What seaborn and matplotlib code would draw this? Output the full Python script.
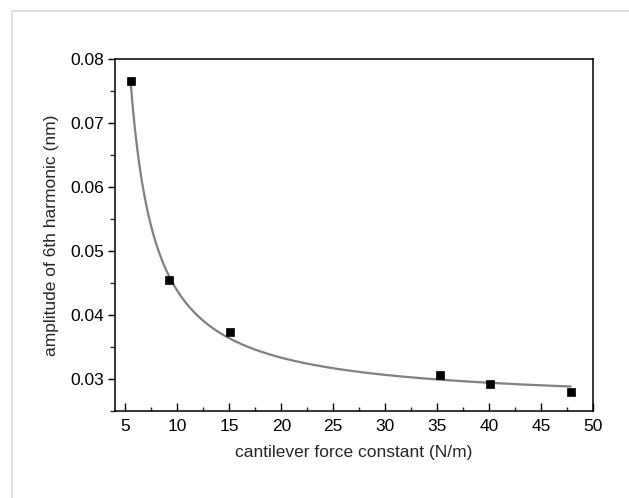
import numpy as np
import pandas as pd
import matplotlib
matplotlib.use("Agg")
import matplotlib.pyplot as plt
from matplotlib.ticker import MultipleLocator
from matplotlib.patches import Rectangle
import seaborn as sns

# ---- data ----
force_constant = [5.5, 9.22, 15.06, 35.3, 40.1, 47.85]          # N/m
amplitude_6th = [0.0765, 0.0454, 0.0373, 0.0306, 0.0292, 0.0279]  # nm

x_ticks = [5, 10, 15, 20, 25, 30, 35, 40, 45, 50]
y_ticks = [0.03, 0.04, 0.05, 0.06, 0.07, 0.08]

# ---- fitted curve y = a + b/(x - c), least squares over data ----
xd = np.array(force_constant)
yd = np.array(amplitude_6th)
best = None
for c in np.linspace(0.0, xd.min() - 0.3, 600):
    A = np.column_stack([np.ones_like(xd), 1.0 / (xd - c)])
    coef, *_ = np.linalg.lstsq(A, yd, rcond=None)
    sse = np.sum((A @ coef - yd) ** 2)
    if best is None or sse < best[0]:
        best = (sse, c, coef)
_, c_fit, (a_fit, b_fit) = best
xs = np.linspace(xd.min(), xd.max(), 400)
fit_df = pd.DataFrame({"x": xs, "y": a_fit + b_fit / (xs - c_fit)})
pts_df = pd.DataFrame({"x": force_constant, "y": amplitude_6th})

sns.set_style("ticks")
plt.rcParams["font.family"] = ["Liberation Sans", "DejaVu Sans"]

fig = plt.figure(figsize=(6.29, 4.98), dpi=100)
fig.patch.set_facecolor("white")
# light frame around the figure
fig.add_artist(Rectangle((12 / 629, -0.1), 1.2, 1 - 11 / 498 + 0.1,
                         transform=fig.transFigure, fill=False,
                         edgecolor="#d9d9d9", linewidth=1.2))

ax = fig.add_axes([115 / 629, 1 - 411 / 498, (593 - 115) / 629, (411 - 59) / 498])

sns.lineplot(data=fit_df, x="x", y="y", ax=ax, color="#808080",
             linewidth=1.6, zorder=2)
sns.scatterplot(data=pts_df, x="x", y="y", ax=ax, marker="s", s=36,
                color="black", edgecolor="black", linewidth=0.5, zorder=3)

ax.set_xlim(4, 50)
ax.set_ylim(0.025, 0.08)
ax.set_xticks(x_ticks)
ax.set_yticks(y_ticks)
ax.set_xticklabels([str(t) for t in x_ticks])
ax.set_yticklabels([f"{t:.2f}" for t in y_ticks])
ax.xaxis.set_minor_locator(MultipleLocator(2.5))
ax.yaxis.set_minor_locator(MultipleLocator(0.005))

ax.tick_params(axis="x", which="major", direction="in", length=5.5, width=1.0,
               labelsize=12.5, pad=6, colors="black")
ax.tick_params(axis="x", which="minor", direction="in", length=3, width=1.0)
ax.tick_params(axis="y", which="major", direction="out", length=5, width=1.0,
               labelsize=12.5, pad=3, colors="black")
ax.tick_params(axis="y", which="minor", direction="out", length=3.5, width=1.0)

for sp in ax.spines.values():
    sp.set_visible(True)
    sp.set_color("black")
    sp.set_linewidth(1.1)

ax.set_xlabel("cantilever force constant (N/m)", fontsize=12.5, labelpad=8)
ax.set_ylabel("amplitude of 6th harmonic (nm)", fontsize=12.5, labelpad=8)

fig.savefig("out.png", dpi=100, facecolor="white")
